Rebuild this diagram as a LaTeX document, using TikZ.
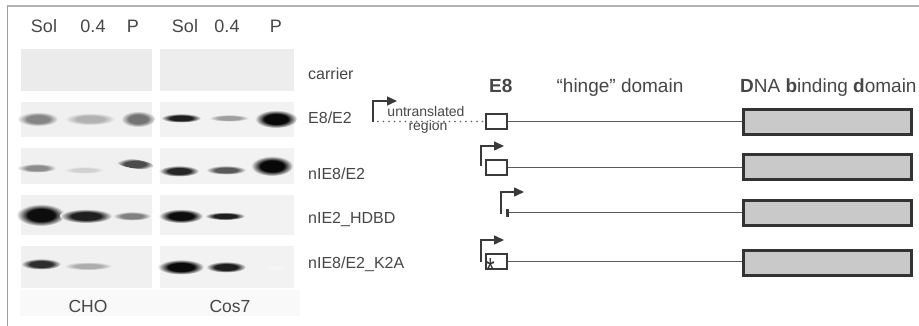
\documentclass[tikz,border=0pt]{standalone}
\usepackage{fontspec}
\setmainfont{Liberation Sans}
\usetikzlibrary{arrows.meta}

\definecolor{txt}{HTML}{474747}
\definecolor{txtdark}{HTML}{333333}
\definecolor{framegray}{HTML}{B2B2B2}
\definecolor{linegray}{HTML}{5A5A5A}
\definecolor{boxgray}{HTML}{3A3A3A}
\definecolor{dbdfill}{HTML}{C9C9C9}
\colorlet{bandcol}{black}
\colorlet{panelcol}{white}

% soft western-blot band: solid core fading into the membrane colour
\pgfdeclareradialshading[bandcol,panelcol]{softband}{\pgfpoint{0bp}{0bp}}{%
  color(0bp)=(bandcol); color(14bp)=(bandcol); color(25bp)=(panelcol); color(50bp)=(panelcol)}

\newcommand\blotband[6][0]{%
  {\colorlet{bandcol}{#6}%
   \shade[shading=softband,rotate around={#1:(#2,#3)}] (#2,#3) ellipse [x radius=#4, y radius=#5];}}

\newcommand\membrane[5]{% x1 y1 x2 y2 colour
  \fill[#5] (#1,#2) rectangle (#3,#4);}

\begin{document}
\begin{tikzpicture}[x=1pt,y=-1pt,
  lanelabel/.style={font=\fontsize{18}{20}\selectfont, text=txt, anchor=base, inner sep=0pt},
  rowlabel/.style={font=\fontsize{16}{18}\selectfont, text=txt, anchor=base west, inner sep=0pt},
  headlabel/.style={font=\fontsize{19}{21}\selectfont, text=txt, anchor=base west, inner sep=0pt},
  celllabel/.style={font=\fontsize{17.5}{20}\selectfont, text=txt, anchor=base, inner sep=0pt},
  smalllabel/.style={font=\fontsize{14}{15}\selectfont, text=txt, anchor=base, inner sep=0pt},
  e8box/.style={draw=boxgray, line width=2pt, fill=white, minimum width=21pt, minimum height=15pt, inner sep=0pt},
  dbdbox/.style={draw=txtdark, line width=3pt, fill=dbdfill, minimum width=168pt, minimum height=25pt, inner sep=0pt},
  tickbox/.style={fill=boxgray, minimum width=3pt, minimum height=8pt, inner sep=0pt},
  hinge/.style={draw=linegray, line width=1pt},
  utr/.style={draw=linegray, line width=1.8pt, line cap=round, dash pattern=on 0pt off 5.5pt},
  promoter/.style={draw=boxgray, line width=1.4pt, -{Triangle[length=10pt,width=9pt]}},
]
\useasboundingbox (0,0) rectangle (919,326);
\fill[white] (0,0) rectangle (919,326);

% frame
\draw[framegray, line width=2pt] (7,6) -- (919,6);
\draw[gray!75, line width=1pt] (7,6) -- (7,326);

% lane headers
\node[lanelabel] (h1) at (44,33) {Sol};
\node[lanelabel] (h2) at (93,33) {0.4};
\node[lanelabel] (h3) at (133,33) {P};
\node[lanelabel] (h4) at (185,33) {Sol};
\node[lanelabel] (h5) at (227,33) {0.4};
\node[lanelabel] (h6) at (276,33) {P};

% membranes
\fill[gray!5] (20,290) rectangle (300,316);
\membrane{21}{49}{152}{91}{gray!16}
\membrane{160}{49}{294}{91}{gray!14}
\foreach \ya/\yb in {102/137,148/184,195/235,246/288}{
  \membrane{21}{\ya}{152}{\yb}{gray!12}
  \membrane{160}{\ya}{294}{\yb}{gray!10}
}

% CHO bands
\colorlet{panelcol}{gray!12}
\blotband{38}{119}{20}{7}{black!48}
\blotband{90}{119}{25}{6}{black!30}
\blotband{138}{119}{17}{8}{black!55}
\blotband{37}{168}{19}{4.5}{black!45}
\blotband{84}{170}{20}{3.5}{black!18}
\blotband[-8]{135}{164}{19}{4.5}{black!70}
\blotband{41}{215}{24}{11}{black!95}
\blotband{86}{216}{26}{7}{black!88}
\blotband{132}{216}{19}{4.5}{black!50}
\blotband{41}{264}{20}{5.5}{black!82}
\blotband{88}{266}{24}{4}{black!32}
\blotband{132}{266}{14}{3}{black!6}

% Cos7 bands
\colorlet{panelcol}{gray!10}
\blotband{181}{118}{20}{4.5}{black!88}
\blotband{229}{118}{20}{3.5}{black!38}
\blotband{276}{119}{21}{9}{black!97}
\blotband{179}{171}{20}{5.5}{black!85}
\blotband{226}{170}{20}{4.5}{black!65}
\blotband{272}{166}{21}{10}{black!97}
\blotband{181}{216}{22}{7}{black!95}
\blotband{225}{216}{20}{4}{black!88}
\blotband{181}{267}{23}{7.5}{black!96}
\blotband{226}{267}{20}{5.5}{black!88}
\blotband{276}{268}{12}{3}{black!4}

% cell lines
\node[celllabel] (cho) at (88,312) {CHO};
\node[celllabel] (cos) at (230,312) {Cos7};

% construct names
\node[rowlabel] (lc) at (308,80) {carrier};
\node[rowlabel] (l1) at (308,124) {E8/E2};
\node[rowlabel] (l2) at (308,180) {nIE8/E2};
\node[rowlabel] (l3) at (308,223) {nIE2\_HDBD};
\node[rowlabel] (l4) at (308,268) {nIE8/E2\_K2A};

% domain headers
\node[headlabel] (hE8) at (489,93) {\textbf{E8}};
\node[headlabel, anchor=base] (hhinge) at (620,93) {“hinge” domain};
\node[headlabel] (hdbd) at (740,93) {\textbf{D}NA \textbf{b}inding \textbf{d}omain};

% untranslated region label
\node[smalllabel] (utr1) at (426,117) {untranslated};
\node[smalllabel] (utr2) at (428,131) {region};

% E8 boxes and DNA binding domains
\node[e8box] (b1) at (496.5,121.5) {};
\node[e8box] (b2) at (496.5,167.5) {};
\node[tickbox] (b3) at (507,213) {};
\node[e8box] (b4) at (496.5,261.5) {};
\node[text=txtdark, font=\fontsize{20}{20}\selectfont, inner sep=0pt, anchor=base] (star) at (490.5,280) {\scalebox{1.1}[1.6]{*}};

\node[dbdbox] (d1) at (827.5,122) {};
\node[dbdbox] (d2) at (827.5,167) {};
\node[dbdbox] (d3) at (827.5,213) {};
\node[dbdbox] (d4) at (827.5,262.5) {};

% hinge linkers
\draw[hinge] (b1.east) -- (b1.east -| d1.west);
\draw[hinge] (b2.east) -- (b2.east -| d2.west);
\draw[hinge] (b3.east) -- (b3.east -| d3.west);
\draw[hinge] (b4.east) -- (b4.east -| d4.west);

% promoters and untranslated region
\coordinate (p1) at (373,122);
\coordinate (p2) at (481,166);
\coordinate (p3) at (501,214);
\coordinate (p4) at (481,262);
\coordinate (u1) at (378,121.5);
\draw[utr] (u1) -- (b1.west);
\draw[promoter] (p1) |- ++(24,-21);
\draw[promoter] (p2) |- ++(23,-20);
\draw[promoter] (p3) |- ++(23,-22);
\draw[promoter] (p4) |- ++(23,-22);
\end{tikzpicture}
\end{document}
